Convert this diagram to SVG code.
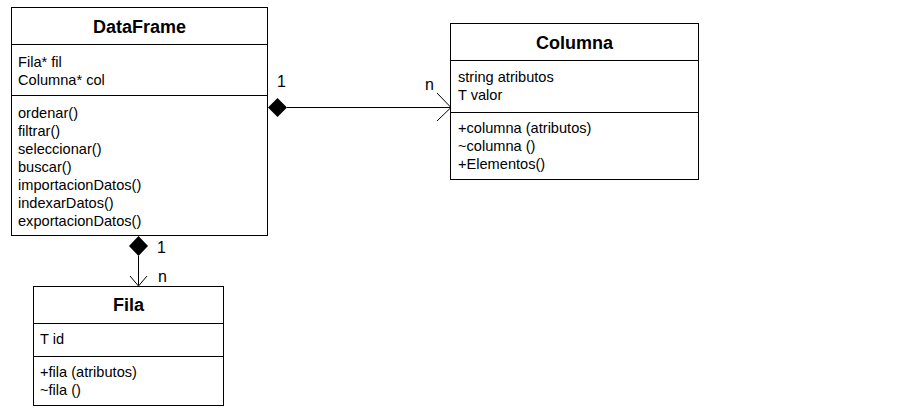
<svg xmlns="http://www.w3.org/2000/svg" width="903" height="419" viewBox="0 0 903 419">
<style>
.box{fill:#fff;stroke:#000;stroke-width:1}
.sep{stroke:#000;stroke-width:1}
.t{font-family:"Liberation Sans",Arial,sans-serif;font-size:14.6px;fill:#000}
.h{font-family:"Liberation Sans",Arial,sans-serif;font-size:18px;font-weight:bold;fill:#000;text-anchor:middle}
.m{font-family:"Liberation Sans",Arial,sans-serif;font-size:16px;fill:#000}
.ln{stroke:#000;stroke-width:1;fill:none}
</style>
<rect width="903" height="419" fill="#fff"/>
<g id="connectors">
<line class="ln" x1="287" y1="107.5" x2="450" y2="107.5"/>
<polygon points="268,107.5 277.5,98 287,107.5 277.5,117" fill="#000"/>
<polyline class="ln" points="437,93 451,107.5 437,121"/>
<text class="m" x="277" y="87">1</text>
<text class="m" x="425" y="90">n</text>
<line class="ln" x1="138.5" y1="256" x2="138.5" y2="285"/>
<polygon points="138.5,236 148,246 138.5,256 129,246" fill="#000"/>
<polyline class="ln" points="130,276 138.5,286 147,276"/>
<text class="m" x="157" y="253">1</text>
<text class="m" x="158" y="282">n</text>
</g>
<g id="DataFrame">
<rect class="box" x="11.5" y="7.5" width="256" height="228"/>
<line class="sep" x1="11.5" y1="44.5" x2="267.5" y2="44.5"/>
<line class="sep" x1="11.5" y1="95.5" x2="267.5" y2="95.5"/>
<text class="h" x="139.5" y="33">DataFrame</text>
<text class="t" x="18" y="67">Fila* fil</text>
<text class="t" x="18" y="85">Columna* col</text>
<text class="t" x="18" y="118">ordenar()</text>
<text class="t" x="18" y="136">filtrar()</text>
<text class="t" x="18" y="154">seleccionar()</text>
<text class="t" x="18" y="172">buscar()</text>
<text class="t" x="18" y="190">importacionDatos()</text>
<text class="t" x="18" y="208">indexarDatos()</text>
<text class="t" x="18" y="226">exportacionDatos()</text>
</g>
<g id="Columna">
<rect class="box" x="450.5" y="23.5" width="248" height="156"/>
<line class="sep" x1="450.5" y1="60.5" x2="698.5" y2="60.5"/>
<line class="sep" x1="450.5" y1="112.5" x2="698.5" y2="112.5"/>
<text class="h" x="574.5" y="49">Columna</text>
<text class="t" x="458" y="82">string atributos</text>
<text class="t" x="458" y="100">T valor</text>
<text class="t" x="458" y="133">+columna (atributos)</text>
<text class="t" x="458" y="151">~columna ()</text>
<text class="t" x="458" y="169">+Elementos()</text>
</g>
<g id="Fila">
<rect class="box" x="33.5" y="286.5" width="190" height="119"/>
<line class="sep" x1="33.5" y1="323.5" x2="223.5" y2="323.5"/>
<line class="sep" x1="33.5" y1="356.5" x2="223.5" y2="356.5"/>
<text class="h" x="128.5" y="311">Fila</text>
<text class="t" x="40" y="344">T id</text>
<text class="t" x="40" y="377">+fila (atributos)</text>
<text class="t" x="40" y="395">~fila ()</text>
</g>
</svg>
